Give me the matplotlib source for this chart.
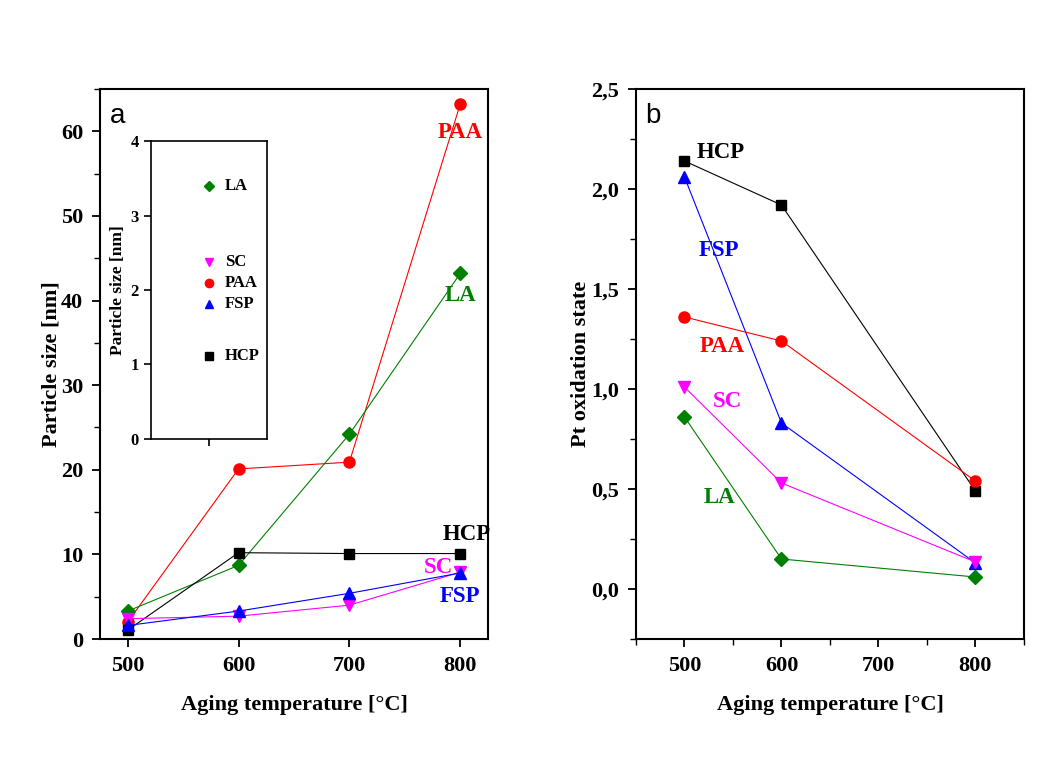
import matplotlib
matplotlib.use("Agg")
import matplotlib.pyplot as plt
from matplotlib.ticker import MultipleLocator, FuncFormatter, NullLocator

temps = [500, 600, 700, 800]
size_HCP = [1.05, 10.2, 10.1, 10.1]
size_LA = [3.3, 8.7, 24.2, 43.2]
size_PAA = [2.0, 20.1, 20.9, 63.2]
size_SC = [2.4, 2.7, 4.0, 7.9]
size_FSP = [1.6, 3.3, 5.4, 7.8]

temps_b = [500, 600, 800]
ox_HCP = [2.14, 1.92, 0.49]
ox_FSP = [2.06, 0.83, 0.13]
ox_PAA = [1.36, 1.24, 0.54]
ox_SC = [1.01, 0.53, 0.135]
ox_LA = [0.86, 0.15, 0.06]

colors = {"HCP": "black", "LA": "#008000", "PAA": "#ff0000", "SC": "#ff00ff", "FSP": "#0000ff"}
markers = {"HCP": "s", "LA": "D", "PAA": "o", "SC": "v", "FSP": "^"}
msize = {"HCP": 7, "LA": 7, "PAA": 8, "SC": 8, "FSP": 8}

serif = "Liberation Serif"
plt.rcParams["font.family"] = serif
plt.rcParams["font.weight"] = "bold"

fig = plt.figure(figsize=(10.57, 7.6), dpi=100)
axa = fig.add_axes([0.0946, 0.1592, 0.367, 0.7237])
axb = fig.add_axes([0.6017, 0.1592, 0.367, 0.7237])

def style(ax, size=16):
    for s in ax.spines.values():
        s.set_linewidth(1.5)
    ax.tick_params(which="major", direction="out", length=6, width=1.3, labelsize=size, pad=6)
    ax.tick_params(which="minor", direction="out", length=4, width=1.0)
    for lab in ax.get_xticklabels() + ax.get_yticklabels():
        lab.set_fontweight("bold")

series_a = {"HCP": size_HCP, "LA": size_LA, "PAA": size_PAA, "SC": size_SC, "FSP": size_FSP}
for name in ["PAA", "LA", "HCP", "SC", "FSP"]:
    axa.plot(temps, series_a[name], color=colors[name], lw=0.8, marker=markers[name],
             ms=msize[name], zorder=3)
axa.set_xlim(475, 825)
axa.set_ylim(0, 65)
axa.xaxis.set_major_locator(MultipleLocator(100))
axa.xaxis.set_minor_locator(NullLocator())
axa.yaxis.set_major_locator(MultipleLocator(10))
axa.yaxis.set_minor_locator(MultipleLocator(5))
style(axa)
axa.set_xlabel("Aging temperature [°C]", fontsize=16, fontweight="bold", labelpad=14)
axa.set_ylabel("Particle size [nm]", fontsize=16, fontweight="bold", labelpad=0)
axa.text(0.025, 0.975, "a", transform=axa.transAxes, fontsize=20, family="Liberation Sans",
         fontweight="normal", va="top", ha="left")

lab_a = [("PAA", 800, 59.9, "center"), ("LA", 800, 40.6, "center"), ("HCP", 806, 12.3, "center"),
         ("SC", 780, 8.5, "center"), ("FSP", 800, 5.0, "center")]
for name, x, y, ha in lab_a:
    axa.text(x, y, name, color=colors[name], fontsize=16.5, fontweight="bold", ha=ha, va="center")

# inset
axi = fig.add_axes([0.1429, 0.4224, 0.1097, 0.392])
axi.set_xlim(0, 1)
axi.set_ylim(0, 4)
axi.set_xticks([0.5])
axi.set_xticklabels([])
axi.yaxis.set_major_locator(MultipleLocator(1))
style(axi, size=12)
axi.tick_params(which="major", length=5, width=1.2, pad=4)
for s in axi.spines.values():
    s.set_linewidth(1.2)
axi.set_ylabel("Particle size [nm]", fontsize=12.5, fontweight="bold", labelpad=3)
leg_items = [("LA", 3.4), ("SC", 2.38), ("PAA", 2.09), ("FSP", 1.81), ("HCP", 1.11)]
for name, y in leg_items:
    axi.plot([0.5], [y], marker=markers[name], color=colors[name], ms=msize[name] * 0.75, ls="none")
    axi.text(0.64, y, name, fontsize=12, fontweight="bold", va="center", ha="left", color="black")

series_b = {"HCP": ox_HCP, "FSP": ox_FSP, "PAA": ox_PAA, "SC": ox_SC, "LA": ox_LA}
for name in ["HCP", "FSP", "PAA", "SC", "LA"]:
    axb.plot(temps_b, series_b[name], color=colors[name], lw=0.8, marker=markers[name],
             ms=msize[name], zorder=3)
axb.set_xlim(450, 850)
axb.set_ylim(-0.25, 2.5)
axb.xaxis.set_major_locator(MultipleLocator(100))
axb.xaxis.set_minor_locator(MultipleLocator(50))
axb.yaxis.set_major_locator(MultipleLocator(0.5))
axb.yaxis.set_minor_locator(MultipleLocator(0.25))
axb.yaxis.set_major_formatter(FuncFormatter(lambda v, p: f"{v:.1f}".replace(".", ",")))
style(axb)
axb.set_xlabel("Aging temperature [°C]", fontsize=16, fontweight="bold", labelpad=14)
axb.set_ylabel("Pt oxidation state", fontsize=16, fontweight="bold", labelpad=0)
axb.text(0.025, 0.975, "b", transform=axb.transAxes, fontsize=20, family="Liberation Sans",
         fontweight="normal", va="top", ha="left")

lab_b = [("HCP", 513, 2.18, "left"), ("FSP", 536, 1.69, "center"), ("PAA", 539, 1.215, "center"),
         ("SC", 544, 0.94, "center"), ("LA", 536, 0.46, "center")]
for name, x, y, ha in lab_b:
    axb.text(x, y, name, color=colors[name], fontsize=16.5, fontweight="bold", ha=ha, va="center")

fig.savefig("out.png", dpi=100)
